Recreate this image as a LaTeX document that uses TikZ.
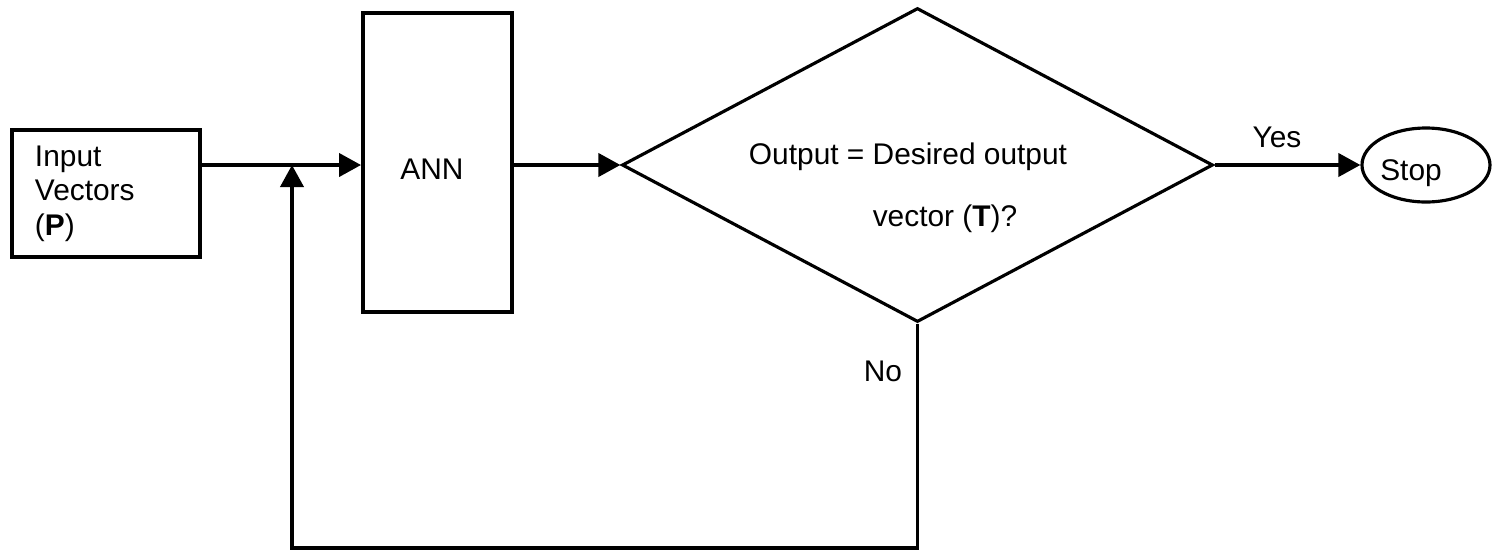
\documentclass[tikz,border=0pt]{standalone}
\usepackage{fontspec}
\setmainfont{Liberation Sans}
\usetikzlibrary{arrows.meta, positioning, shapes.geometric, calc}

\begin{document}
\begin{tikzpicture}[>={Triangle[length=2.2mm, width=2.3mm]},
    font=\fontsize{8.5}{9.8}\selectfont,
    box/.style={draw, line width=1.1pt, inner sep=0pt},
    flow/.style={->, line width=1.1pt},
    thinline/.style={draw, line width=0.9pt, inner sep=0pt}]
  \useasboundingbox (0,0) rectangle (14.94,5.53);

  % Blocks
  \node[box, minimum width=1.88cm, minimum height=1.27cm,
        text width=1.42cm, align=left] (input) at (1.06, 3.595)
        {Input\\Vectors\\(\textbf{P})};
  \node[box, minimum width=1.49cm, minimum height=2.99cm] (ann) at (4.375, 3.905) {};
  \node (anntext) at (4.32, 3.84) {ANN};

  % Decision
  \node[thinline, diamond, minimum width=5.91cm, minimum height=3.14cm] (check) at (9.175, 3.88) {};
  \node (cond1) at (9.08, 3.96) {Output = Desired output};
  \node (cond2) at (9.45, 3.34) {vector (\textbf{T})?};

  % Stop
  \node[thinline, ellipse, minimum width=1.28cm, minimum height=0.74cm] (stop) at (14.26, 3.88) {};
  \node (stoptext) at (14.11, 3.80) {Stop};

  % Links
  \coordinate (join) at (2.92, 3.88);
  \coordinate (loopR) at (9.175, 0.05);
  \coordinate (loopL) at (2.92, 0.05);
  \draw[flow] (input.east |- join) -- (ann.west |- join);
  \draw[flow] (ann.east |- join) -- (check.west);
  \draw[flow] (check.east) -- (stop.west);
  \draw[flow] (check.south) -- (loopR) -- (loopL) -- (join);

  % Labels
  \node (yes) at (12.77, 4.16) {Yes};
  \node (no) at (8.83, 1.82) {No};
\end{tikzpicture}
\end{document}
